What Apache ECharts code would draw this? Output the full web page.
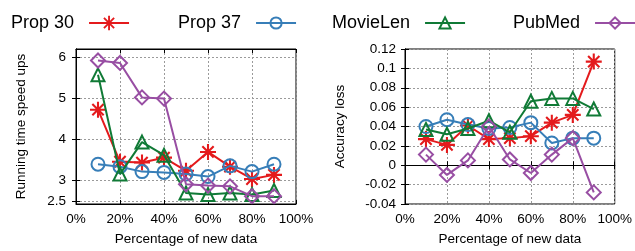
<!DOCTYPE html>
<html>
<head>
<meta charset="utf-8">
<script src="https://cdn.jsdelivr.net/npm/echarts@6/dist/echarts.min.js"></script>
<style>
  html, body { margin: 0; padding: 0; background: #fff; }
  #main { width: 635px; height: 251px; }
</style>
</head>
<body>
<div id="main"></div>
<script>
// percentage of new data
var pctNew = [10, 20, 30, 40, 50, 60, 70, 80, 90];

// running time speed ups (left)
var speedProp30 = [4.73, 3.46, 3.44, 3.56, 3.24, 3.70, 3.34, 3.04, 3.14];
var speedProp37 = [3.40, 3.34, 3.22, 3.20, 3.16, 3.10, 3.36, 3.22, 3.40];
var speedMovie = [5.58, 3.16, 3.94, 3.62, 2.70, 2.66, 2.70, 2.66, 2.76];
var speedPub = [5.93, 5.87, 5.03, 5.00, 2.91, 2.88, 2.86, 2.62, 2.62];

// accuracy loss (right)
var lossProp30 = [0.027, 0.021, 0.041, 0.027, 0.028, 0.030, 0.044, 0.052, 0.107];
var lossProp37 = [0.040, 0.047, 0.042, 0.038, 0.039, 0.044, 0.023, 0.028, 0.028];
var lossMovie = [0.037, 0.032, 0.038, 0.046, 0.034, 0.066, 0.069, 0.069, 0.058];
var lossPub = [0.011, -0.010, 0.005, 0.040, 0.006, -0.008, 0.011, 0.028, -0.028];

var speedTicks = [2.5, 3, 4, 5, 6];
var names = ['Prop 30', 'Prop 37', 'MovieLen', 'PubMed'];

var FONT = '"Liberation Sans", Arial, sans-serif';
var colors = ['#e41a1c', '#377eb8', '#107a36', '#984ea3'];

// asterisk marker (+ and x together)
function starPath() {
    var L = 10, w = 1.3, p = '';
    [0, 45, 90, 135].forEach(function (deg) {
        var a = deg * Math.PI / 180, c = Math.cos(a), s = Math.sin(a);
        var pts = [
            [-L * c - w * s, -L * s + w * c],
            [L * c - w * s, L * s + w * c],
            [L * c + w * s, L * s - w * c],
            [-L * c + w * s, -L * s - w * c]
        ];
        p += 'M' + pts.map(function (q) { return q[0].toFixed(2) + ',' + q[1].toFixed(2); }).join('L') + 'Z';
    });
    return 'path://' + p;
}

var symbols = [starPath(), 'circle', 'triangle', 'diamond'];
var symSizes = [16, 13, 13, 14];

function pairs(arr) {
    return pctNew.map(function (x, i) { return [x, arr[i]]; });
}

function makeSeries(idx, axisIdx, arr) {
    var hollow = idx > 0;
    return {
        name: names[idx],
        type: 'line',
        xAxisIndex: axisIdx,
        yAxisIndex: axisIdx,
        data: pairs(arr),
        symbol: symbols[idx],
        symbolSize: symSizes[idx],
        showAllSymbol: true,
        lineStyle: { color: colors[idx], width: 2 },
        itemStyle: hollow
            ? { color: 'rgba(255,255,255,0)', borderColor: colors[idx], borderWidth: 2 }
            : { color: colors[idx], borderWidth: 0 },
        emphasis: { disabled: true },
        animation: false,
        z: 3 + idx
    };
}

var gridLine = { show: true, lineStyle: { color: '#9a9a9a', type: [2, 2], width: 1 } };
var axisLbl = { color: '#000', fontFamily: FONT, fontSize: 13.5 };
var nameStyle = { color: '#000', fontFamily: FONT, fontSize: 13.5 };
var inTick = { show: true, inside: true, length: 4, lineStyle: { color: '#000' } };
var blackLine = { show: true, lineStyle: { color: '#000', width: 1 } };

function xAxes(gi) {
    return [
        {
            type: 'value', gridIndex: gi, min: 0, max: 100, interval: 20,
            axisLine: blackLine, axisTick: inTick, splitLine: gridLine,
            axisLabel: Object.assign({ formatter: '{value}%', margin: 8 }, axisLbl),
            name: 'Percentage of new data', nameLocation: 'middle', nameGap: 28,
            nameTextStyle: nameStyle
        },
        {
            type: 'value', gridIndex: gi, position: 'top', min: 0, max: 100, interval: 20,
            axisLine: blackLine, axisTick: inTick, splitLine: { show: false },
            axisLabel: { show: false }
        }
    ];
}

var legends = names.map(function (n, i) {
    return {
        data: [n],
        left: [6, 173, 327, 508][i],
        top: 9,
        align: 'right',
        itemWidth: 40,
        itemHeight: i === 0 ? 18 : 14,
        itemGap: 0,
        selectedMode: false,
        textStyle: { color: '#000', fontFamily: FONT, fontSize: 18, padding: [0, 10, 0, 0] }
    };
});

var option = {
    backgroundColor: '#fff',
    animation: false,
    legend: legends,
    grid: [
        { left: 76, right: 339, top: 49, bottom: 45, show: true, borderColor: '#000', borderWidth: 1 },
        { left: 405, right: 19, top: 49, bottom: 45, show: true, borderColor: '#000', borderWidth: 1 }
    ],
    xAxis: xAxes(0).concat(xAxes(1)),
    yAxis: [
        {
            type: 'value', gridIndex: 0, min: 2.43, max: 6.21,
            axisLine: blackLine,
            axisTick: Object.assign({ customValues: speedTicks }, inTick),
            splitLine: gridLine,
            axisLabel: Object.assign({ customValues: speedTicks, margin: 10 }, axisLbl),
            name: 'Running time speed ups', nameLocation: 'middle', nameGap: 48,
            nameTextStyle: nameStyle
        },
        {
            type: 'value', gridIndex: 0, position: 'right', min: 2.43, max: 6.21,
            axisLine: blackLine,
            axisTick: Object.assign({ customValues: speedTicks }, inTick),
            splitLine: { show: false }, axisLabel: { show: false }
        },
        {
            type: 'value', gridIndex: 1, min: -0.04, max: 0.12, interval: 0.02,
            axisLine: blackLine, axisTick: inTick, splitLine: gridLine,
            axisLabel: Object.assign({ margin: 9 }, axisLbl),
            name: 'Accuracy loss', nameLocation: 'middle', nameGap: 58,
            nameTextStyle: nameStyle
        },
        {
            type: 'value', gridIndex: 1, position: 'right', min: -0.04, max: 0.12, interval: 0.02,
            axisLine: blackLine, axisTick: inTick,
            splitLine: { show: false }, axisLabel: { show: false }
        }
    ],
    series: [
        makeSeries(0, 0, speedProp30),
        makeSeries(1, 0, speedProp37),
        makeSeries(2, 0, speedMovie),
        makeSeries(3, 0, speedPub),
        makeSeries(0, 2, lossProp30),
        makeSeries(1, 2, lossProp37),
        makeSeries(2, 2, lossMovie),
        makeSeries(3, 2, lossPub)
    ]
};

// series on the right chart use x axis 2 and y axis 2
option.series.forEach(function (s, i) {
    if (i >= 4) { s.xAxisIndex = 2; s.yAxisIndex = 2; }
});

var chart = echarts.init(document.getElementById('main'));
chart.setOption(option);
window.addEventListener('resize', function () {
    chart.resize();
});
</script>
</body>
</html>
